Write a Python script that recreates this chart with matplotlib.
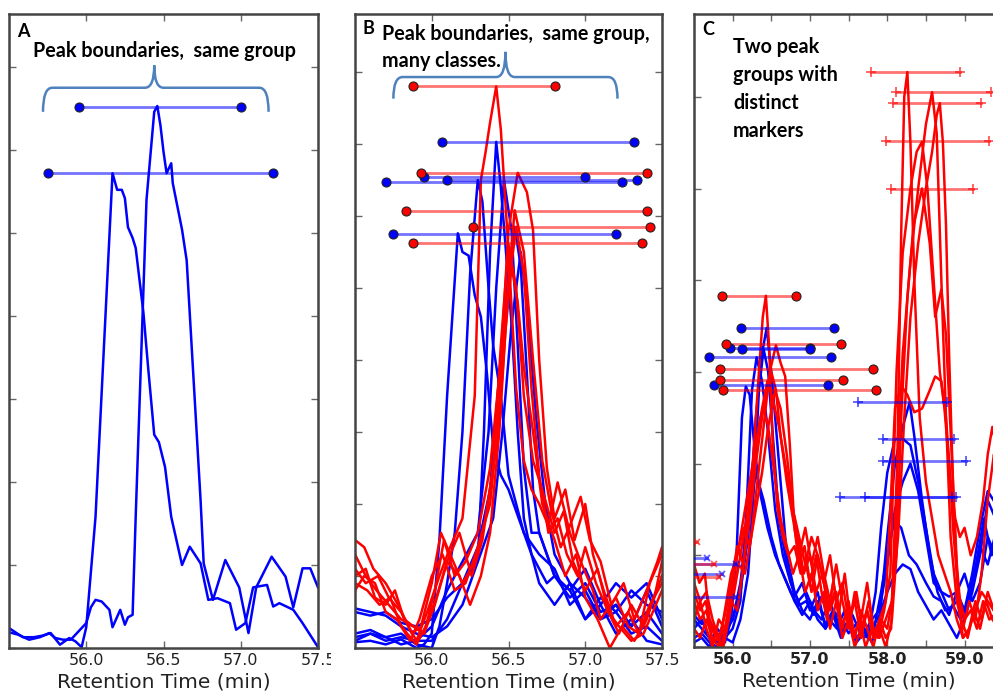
import numpy as np
import matplotlib.pyplot as plt
from matplotlib.path import Path
from matplotlib.patches import PathPatch, Rectangle

# ---------------- data ----------------
# Panel A: two blue chromatograms (retention time, intensity)
a_trace1 = [(55.5, 0.19), (55.56, 0.16), (55.63, 0.10), (55.7, 0.13), (55.76, 0.18), (55.8, 0.12),
            (55.85, 0.10), (55.9, 0.10), (55.96, 0.22), (56.0, 0.30), (56.03, 0.49), (56.06, 0.58),
            (56.1, 0.56), (56.15, 0.46), (56.17, 0.25), (56.22, 0.46), (56.25, 0.28), (56.27, 0.37),
            (56.3, 0.40), (56.32, 1.58), (56.39, 5.4), (56.44, 6.46), (56.46, 6.53), (56.48, 6.3),
            (56.5, 5.98), (56.52, 5.72), (56.55, 5.84), (56.56, 5.6), (56.62, 5.04), (56.65, 4.67),
            (56.74, 1.78), (56.76, 1.02), (56.82, 0.58), (56.9, 1.06), (56.99, 0.73), (57.05, 0.18),
            (57.1, 0.73), (57.2, 1.10), (57.29, 0.86), (57.34, 0.49), (57.4, 0.96), (57.45, 0.96),
            (57.5, 0.73)]
a_trace2 = [(55.5, 0.24), (55.59, 0.13), (55.66, 0.13), (55.72, 0.15), (55.77, 0.18), (55.83, 0.04),
            (55.89, 0.12), (55.93, 0.08), (55.97, 0.01), (56.0, 0.25), (56.06, 1.58), (56.17, 5.72),
            (56.2, 5.52), (56.23, 5.52), (56.25, 5.42), (56.27, 5.07), (56.3, 4.94), (56.32, 4.82),
            (56.37, 4.04), (56.4, 3.39), (56.44, 2.57), (56.47, 2.48), (56.51, 2.18), (56.55, 1.58),
            (56.62, 1.0), (56.67, 1.22), (56.74, 1.02), (56.79, 0.58), (56.85, 0.60), (56.93, 0.54),
            (56.97, 0.22), (57.03, 0.30), (57.08, 0.73), (57.17, 0.76), (57.21, 0.50), (57.25, 0.54),
            (57.34, 0.46), (57.4, 0.30), (57.5, 0.01)]
a_bound_y = [6.52, 5.72]
a_bound_start = [55.95, 55.75]
a_bound_end = [57.0, 57.21]

# Panel B: blue and red chromatograms
b_blue1 = [(55.5, 0.55), (55.6, 0.5), (55.7, 0.45), (55.8, 0.3), (55.9, 0.2), (56.0, 0.15), (56.1, 0.3),
           (56.2, 0.6), (56.3, 1.2), (56.34, 3.0), (56.38, 5.5), (56.42, 7.03), (56.45, 6.4), (56.48, 5.6),
           (56.52, 4.5), (56.56, 3.0), (56.6, 1.8), (56.65, 1.3), (56.7, 1.1), (56.75, 0.9), (56.8, 1.0),
           (56.9, 0.7), (57.0, 0.9), (57.1, 0.5), (57.2, 0.6), (57.3, 0.3), (57.4, 0.5), (57.5, 0.2)]
b_blue2 = [(55.5, 0.2), (55.6, 0.25), (55.7, 0.15), (55.8, 0.2), (55.9, 0.05), (56.0, 0.0), (56.05, 0.3),
           (56.1, 0.9), (56.15, 1.6), (56.2, 3.0), (56.25, 5.2), (56.3, 6.5), (56.33, 6.2), (56.37, 5.0),
           (56.4, 4.2), (56.45, 3.5), (56.5, 2.4), (56.55, 2.0), (56.6, 1.6), (56.7, 1.3), (56.8, 1.1),
           (56.9, 0.6), (57.0, 0.8), (57.1, 0.4), (57.2, 0.5), (57.3, 0.2), (57.4, 0.3), (57.5, 0.1)]
b_blue3 = [(55.5, 0.08), (55.6, 0.1), (55.7, 0.05), (55.8, 0.12), (55.9, 0.0), (55.95, 0.05), (56.0, 0.2),
           (56.05, 1.5), (56.1, 3.5), (56.17, 5.76), (56.2, 5.5), (56.24, 5.45), (56.28, 4.9), (56.32, 4.6),
           (56.36, 3.8), (56.4, 2.8), (56.45, 2.4), (56.5, 2.2), (56.55, 1.9), (56.6, 1.6), (56.65, 1.3),
           (56.7, 0.9), (56.8, 0.6), (56.9, 0.9), (57.0, 0.4), (57.1, 0.6), (57.2, 0.2), (57.3, 0.4),
           (57.4, 0.1), (57.5, 0.05)]
b_blue4 = [(55.5, 0.5), (55.6, 0.45), (55.7, 0.5), (55.8, 0.35), (55.9, 0.3), (56.0, 0.4), (56.1, 0.7),
           (56.2, 0.9), (56.3, 1.4), (56.38, 2.2), (56.44, 3.8), (56.5, 5.2), (56.54, 5.85), (56.58, 5.3),
           (56.62, 3.8), (56.66, 2.2), (56.7, 1.6), (56.75, 1.3), (56.8, 1.0), (56.9, 0.8), (57.0, 0.4),
           (57.1, 0.7), (57.2, 0.5), (57.3, 0.8), (57.4, 0.6), (57.5, 0.5)]
b_blue5 = [(55.5, 0.15), (55.6, 0.2), (55.7, 0.1), (55.8, 0.15), (55.9, 0.1), (56.0, 0.3), (56.1, 0.8),
           (56.2, 1.2), (56.3, 1.6), (56.37, 3.0), (56.42, 5.0), (56.47, 6.5), (56.52, 5.8), (56.56, 4.2),
           (56.6, 2.5), (56.65, 1.6), (56.7, 1.6), (56.8, 1.0), (56.9, 0.8), (57.0, 1.1), (57.1, 0.6),
           (57.2, 0.9), (57.3, 0.7), (57.4, 0.9), (57.5, 0.4)]
b_blue6 = [(55.5, 0.1), (55.6, 0.2), (55.7, 0.15), (55.8, 0.05), (55.9, 0.1), (56.0, 0.1), (56.1, 0.4),
           (56.2, 0.9), (56.3, 1.2), (56.4, 1.8), (56.46, 3.0), (56.52, 4.5), (56.58, 5.5), (56.62, 4.8),
           (56.68, 3.2), (56.74, 2.0), (56.8, 1.3), (56.9, 0.9), (57.0, 0.7), (57.1, 0.4), (57.2, 0.6),
           (57.3, 0.3), (57.4, 0.8), (57.5, 0.3)]
b_red1 = [(55.5, 1.5), (55.56, 1.4), (55.62, 1.1), (55.7, 0.9), (55.78, 0.6), (55.85, 0.3), (55.9, 0.1),
          (55.97, 0.5), (56.05, 1.0), (56.12, 1.4), (56.2, 1.8), (56.28, 3.5), (56.32, 6.5), (56.35, 6.88),
          (56.38, 7.3), (56.42, 7.8), (56.45, 7.2), (56.5, 5.5), (56.55, 3.6), (56.6, 2.6), (56.65, 2.2),
          (56.7, 2.0), (56.76, 1.7), (56.82, 2.3), (56.9, 1.6), (56.97, 1.2), (57.05, 0.8), (57.1, 0.4),
          (57.2, 0.7), (57.28, 0.3), (57.35, 0.2), (57.42, 0.6), (57.5, 0.9)]
b_red2 = [(55.5, 1.0), (55.57, 1.1), (55.63, 0.7), (55.7, 0.6), (55.76, 0.8), (55.82, 0.4), (55.88, 0.3),
          (55.95, 0.2), (56.02, 0.8), (56.08, 1.5), (56.15, 1.0), (56.22, 1.2), (56.3, 1.6), (56.38, 2.5),
          (56.45, 4.0), (56.5, 5.8), (56.56, 6.6), (56.62, 6.33), (56.66, 5.8), (56.7, 4.0), (56.75, 2.5),
          (56.8, 1.8), (56.87, 2.2), (56.93, 1.5), (57.0, 2.0), (57.05, 1.3), (57.12, 0.8), (57.2, 0.3),
          (57.28, 0.5), (57.35, 0.2), (57.42, 0.9), (57.5, 1.3)]
b_red3 = [(55.5, 1.1), (55.57, 0.9), (55.65, 1.0), (55.72, 0.7), (55.8, 0.5), (55.87, 0.2), (55.93, 0.3),
          (56.0, 0.9), (56.06, 1.6), (56.12, 1.3), (56.2, 0.9), (56.28, 1.2), (56.35, 1.8), (56.42, 2.8),
          (56.48, 4.6), (56.54, 6.08), (56.6, 5.5), (56.66, 4.0), (56.72, 2.6), (56.78, 1.9), (56.84, 1.4),
          (56.9, 1.7), (56.97, 2.1), (57.03, 1.5), (57.1, 1.2), (57.17, 0.6), (57.25, 0.9), (57.32, 0.4),
          (57.4, 0.8), (57.47, 1.2), (57.5, 1.4)]
b_red4 = [(55.5, 0.9), (55.58, 0.8), (55.66, 0.6), (55.73, 0.7), (55.8, 0.3), (55.86, 0.1), (55.92, 0.4),
          (56.0, 1.0), (56.07, 1.3), (56.15, 0.8), (56.22, 0.9), (56.3, 1.4), (56.38, 2.0), (56.45, 3.5),
          (56.5, 5.0), (56.55, 5.85), (56.6, 5.2), (56.65, 3.6), (56.7, 2.4), (56.76, 1.6), (56.82, 1.8),
          (56.88, 1.3), (56.95, 1.0), (57.0, 1.4), (57.07, 0.9), (57.15, 0.5), (57.22, 0.2), (57.3, 0.6),
          (57.38, 0.3), (57.45, 0.7), (57.5, 1.0)]
b_red5 = [(55.5, 0.8), (55.56, 1.0), (55.63, 0.9), (55.7, 0.5), (55.77, 0.4), (55.84, 0.2), (55.9, 0.05),
          (55.96, 0.3), (56.03, 0.7), (56.1, 1.2), (56.18, 1.6), (56.26, 1.0), (56.33, 1.5), (56.4, 2.5),
          (56.45, 4.2), (56.5, 5.6), (56.55, 5.0), (56.6, 3.5), (56.66, 2.6), (56.72, 2.2), (56.8, 1.6),
          (56.86, 1.9), (56.92, 1.2), (57.0, 0.8), (57.08, 1.1), (57.15, 0.5), (57.22, 0.3), (57.3, 0.1),
          (57.38, 0.2), (57.44, 0.5), (57.5, 0.8)]
b_red6 = [(55.5, 1.3), (55.57, 1.0), (55.64, 0.8), (55.72, 0.6), (55.8, 0.4), (55.88, 0.3), (55.95, 0.2),
          (56.02, 0.6), (56.1, 1.2), (56.18, 1.0), (56.25, 0.6), (56.32, 1.0), (56.38, 1.6), (56.44, 3.0),
          (56.48, 4.4), (56.52, 5.3), (56.56, 4.8), (56.6, 3.9), (56.66, 3.0), (56.72, 2.0), (56.8, 1.5),
          (56.87, 1.0), (56.94, 1.3), (57.0, 0.7), (57.08, 0.4), (57.16, 0.0), (57.24, 0.3), (57.32, 0.1),
          (57.4, 0.4), (57.46, 0.8), (57.5, 1.2)]
b_blue_bound_y = [7.03, 6.54, 6.50, 6.47, 5.75]
b_blue_bound_start = [56.07, 55.95, 56.10, 55.70, 55.75]
b_blue_bound_end = [57.32, 57.0, 57.34, 57.24, 57.2]
b_red_bound_y = [7.8, 6.6, 6.07, 5.85, 5.62]
b_red_bound_start = [55.88, 55.93, 55.83, 56.27, 55.88]
b_red_bound_end = [56.80, 57.40, 57.40, 57.42, 57.37]

# Panel C: two peak groups
c_blue1 = [(55.5, 0.3), (55.6, 0.2), (55.7, 0.1), (55.8, 0.05), (55.9, 0.15), (56.0, 0.3), (56.1, 0.6),
           (56.2, 1.2), (56.3, 2.5), (56.38, 3.2), (56.44, 3.48), (56.5, 3.0), (56.6, 2.0), (56.7, 1.0),
           (56.8, 0.6), (56.9, 0.4), (57.0, 0.3), (57.1, 0.5), (57.2, 0.25), (57.3, 0.4), (57.4, 0.15),
           (57.5, 0.3), (57.6, 0.1), (57.7, 0.2), (57.8, 0.05), (57.9, 0.3), (58.0, 1.2), (58.1, 2.0),
           (58.2, 2.4), (58.29, 2.67), (58.35, 2.3), (58.45, 1.6), (58.55, 1.0), (58.65, 0.6), (58.75, 0.4),
           (58.85, 0.45), (58.95, 0.3), (59.05, 0.5), (59.15, 0.9), (59.25, 1.4), (59.35, 1.0), (59.45, 1.2)]
c_blue2 = [(55.5, 0.1), (55.6, 0.15), (55.7, 0.05), (55.8, 0.0), (55.9, 0.1), (56.0, 0.2), (56.1, 0.5),
           (56.18, 1.5), (56.25, 2.8), (56.31, 3.16), (56.38, 2.9), (56.45, 2.4), (56.55, 1.5), (56.65, 1.0),
           (56.75, 0.7), (56.85, 0.5), (56.95, 0.6), (57.05, 0.4), (57.15, 0.3), (57.25, 0.5), (57.35, 0.3),
           (57.45, 0.2), (57.55, 0.35), (57.65, 0.15), (57.75, 0.1), (57.85, 0.6), (57.92, 1.3), (58.0, 1.9),
           (58.1, 2.27), (58.2, 2.27), (58.3, 2.2), (58.4, 1.8), (58.5, 1.3), (58.6, 0.8), (58.7, 0.6),
           (58.8, 0.55), (58.9, 0.6), (59.0, 0.4), (59.1, 0.8), (59.2, 1.3), (59.3, 1.7), (59.45, 1.5)]
c_blue3 = [(55.5, 0.2), (55.6, 0.3), (55.7, 0.1), (55.8, 0.15), (55.9, 0.05), (55.98, 0.3), (56.05, 1.0),
           (56.12, 2.5), (56.17, 2.84), (56.22, 2.75), (56.28, 2.2), (56.35, 1.7), (56.45, 1.3), (56.55, 1.0),
           (56.65, 0.8), (56.75, 0.6), (56.85, 0.45), (56.95, 0.5), (57.05, 0.35), (57.15, 0.55), (57.25, 0.3),
           (57.35, 0.2), (57.45, 0.4), (57.55, 0.2), (57.65, 0.3), (57.75, 0.1), (57.83, 0.2), (57.92, 0.6),
           (58.0, 1.0), (58.09, 1.38), (58.18, 1.3), (58.28, 1.0), (58.38, 0.9), (58.5, 0.7), (58.6, 0.55),
           (58.7, 0.5), (58.8, 0.35), (58.9, 0.6), (59.0, 0.8), (59.1, 0.5), (59.2, 0.7), (59.3, 1.2),
           (59.45, 0.9)]
c_blue4 = [(55.5, 0.05), (55.6, 0.1), (55.7, 0.0), (55.8, 0.2), (55.9, 0.1), (56.0, 0.05), (56.1, 0.3),
           (56.2, 0.8), (56.28, 1.8), (56.34, 2.8), (56.4, 3.25), (56.46, 3.0), (56.52, 2.3), (56.6, 1.4),
           (56.7, 0.9), (56.8, 0.55), (56.9, 0.7), (57.0, 0.4), (57.1, 0.6), (57.2, 0.2), (57.3, 0.35),
           (57.4, 0.1), (57.5, 0.25), (57.6, 0.05), (57.7, 0.15), (57.8, 0.3), (57.9, 0.4), (58.0, 0.9),
           (58.1, 1.5), (58.2, 1.8), (58.3, 2.0), (58.4, 1.7), (58.5, 1.2), (58.6, 0.7), (58.7, 0.6),
           (58.8, 0.4), (58.9, 0.5), (59.0, 0.3), (59.1, 0.6), (59.2, 1.0), (59.3, 1.6), (59.45, 1.3)]
c_blue5 = [(55.5, 0.35), (55.6, 0.25), (55.7, 0.3), (55.8, 0.1), (55.9, 0.2), (56.0, 0.3), (56.1, 0.7),
           (56.2, 1.4), (56.3, 1.9), (56.4, 1.6), (56.5, 1.2), (56.6, 0.9), (56.7, 0.7), (56.8, 0.5),
           (56.9, 0.35), (57.0, 0.5), (57.1, 0.3), (57.2, 0.2), (57.3, 0.4), (57.4, 0.3), (57.5, 0.15),
           (57.6, 0.25), (57.7, 0.1), (57.8, 0.2), (57.9, 0.35), (58.0, 0.6), (58.1, 0.8), (58.2, 0.9),
           (58.3, 0.85), (58.4, 0.6), (58.5, 0.45), (58.6, 0.3), (58.7, 0.4), (58.8, 0.25), (58.9, 0.1),
           (59.0, 0.3), (59.1, 0.7), (59.2, 1.1), (59.3, 0.9), (59.45, 1.4)]
c_red1 = [(55.5, 0.6), (55.58, 0.4), (55.65, 0.5), (55.72, 0.2), (55.8, 0.1), (55.88, 0.0), (55.95, 0.3),
          (56.02, 0.6), (56.1, 1.0), (56.18, 1.4), (56.26, 2.0), (56.34, 3.0), (56.39, 3.6), (56.43, 3.83),
          (56.47, 3.3), (56.52, 2.2), (56.58, 1.5), (56.65, 1.2), (56.72, 1.0), (56.8, 1.1), (56.88, 0.8),
          (56.95, 0.9), (57.02, 0.6), (57.1, 1.0), (57.18, 0.7), (57.26, 0.4), (57.34, 0.6), (57.42, 0.2),
          (57.5, 0.5), (57.58, 0.1), (57.66, 0.4), (57.74, 0.2), (57.82, 0.0), (57.9, 0.3), (57.98, 0.1),
          (58.05, 0.2), (58.12, 1.5), (58.18, 4.5), (58.22, 6.0), (58.26, 6.27), (58.3, 5.5), (58.35, 4.0),
          (58.42, 2.5), (58.5, 1.8), (58.58, 1.4), (58.66, 1.0), (58.74, 0.8), (58.82, 0.6), (58.9, 0.3),
          (58.98, 0.1), (59.06, 0.2), (59.14, 0.4), (59.22, 0.6), (59.3, 0.5), (59.45, 0.3)]
c_red2 = [(55.5, 0.9), (55.57, 0.7), (55.64, 0.8), (55.7, 0.3), (55.78, 0.15), (55.85, 0.0), (55.92, 0.25),
          (56.0, 0.6), (56.08, 0.9), (56.16, 0.8), (56.24, 1.2), (56.32, 1.8), (56.4, 2.4), (56.48, 3.0),
          (56.56, 3.29), (56.62, 3.1), (56.68, 2.95), (56.74, 2.2), (56.8, 1.3), (56.86, 0.9), (56.93, 1.1),
          (57.0, 0.7), (57.08, 1.0), (57.15, 0.6), (57.22, 0.3), (57.3, 0.7), (57.38, 0.4), (57.45, 0.8),
          (57.52, 0.3), (57.6, 0.6), (57.68, 0.2), (57.76, 0.5), (57.84, 0.1), (57.92, 0.3), (58.0, 0.2),
          (58.06, 0.5), (58.12, 1.8), (58.2, 3.2), (58.3, 4.2), (58.4, 5.0), (58.5, 5.7), (58.58, 6.05),
          (58.64, 5.6), (58.7, 4.0), (58.76, 2.5), (58.82, 1.2), (58.9, 0.5), (58.98, 0.2), (59.06, 0.5),
          (59.14, 0.3), (59.22, 0.8), (59.3, 1.6), (59.38, 2.1), (59.45, 1.8)]
c_red3 = [(55.5, 0.5), (55.58, 0.3), (55.66, 0.4), (55.74, 0.05), (55.82, 0.1), (55.9, 0.35), (55.98, 0.7),
          (56.06, 1.1), (56.14, 0.9), (56.22, 1.4), (56.3, 2.0), (56.38, 2.5), (56.44, 2.8), (56.5, 3.0),
          (56.56, 2.8), (56.62, 2.3), (56.7, 1.8), (56.78, 1.4), (56.86, 1.0), (56.94, 1.3), (57.02, 0.9),
          (57.1, 1.2), (57.18, 0.8), (57.26, 0.5), (57.34, 0.9), (57.42, 0.5), (57.5, 0.2), (57.58, 0.6),
          (57.66, 0.3), (57.74, 0.7), (57.82, 0.2), (57.9, 0.1), (57.98, 0.3), (58.06, 0.5), (58.14, 1.2),
          (58.22, 2.5), (58.3, 3.6), (58.4, 4.4), (58.5, 5.0), (58.58, 5.4), (58.64, 5.8), (58.68, 5.93),
          (58.72, 5.5), (58.76, 4.6), (58.8, 3.2), (58.86, 1.5), (58.92, 0.5), (58.98, 0.1), (59.06, 0.2),
          (59.14, 0.5), (59.22, 0.3), (59.3, 0.6), (59.38, 0.4), (59.45, 0.7)]
c_red4 = [(55.5, 0.3), (55.58, 0.5), (55.66, 0.2), (55.74, 0.0), (55.82, 0.3), (55.9, 0.2), (55.98, 0.5),
          (56.06, 0.4), (56.14, 0.9), (56.22, 1.6), (56.3, 2.2), (56.38, 2.6), (56.45, 2.9), (56.52, 2.7),
          (56.6, 2.4), (56.68, 2.0), (56.76, 1.6), (56.84, 1.2), (56.92, 0.8), (57.0, 1.0), (57.08, 0.6),
          (57.16, 0.8), (57.24, 0.4), (57.32, 0.6), (57.4, 0.2), (57.48, 0.4), (57.56, 0.1), (57.64, 0.3),
          (57.72, 0.0), (57.8, 0.2), (57.88, 0.1), (57.96, 0.4), (58.04, 0.8), (58.12, 3.0), (58.2, 4.3),
          (58.3, 5.0), (58.38, 5.4), (58.45, 5.51), (58.52, 5.0), (58.6, 4.0), (58.68, 3.0), (58.74, 2.6),
          (58.8, 2.0), (58.86, 1.2), (58.92, 0.6), (59.0, 0.3), (59.08, 0.4), (59.16, 0.2), (59.24, 0.5),
          (59.32, 0.3), (59.45, 0.4)]
c_red5 = [(55.5, 0.2), (55.58, 0.1), (55.66, 0.3), (55.74, 0.1), (55.82, 0.0), (55.9, 0.4), (55.98, 0.8),
          (56.06, 1.0), (56.14, 1.3), (56.22, 1.1), (56.3, 1.5), (56.38, 1.9), (56.46, 2.4), (56.55, 2.8),
          (56.62, 2.6), (56.7, 2.1), (56.78, 1.5), (56.86, 1.2), (56.94, 0.9), (57.02, 1.2), (57.1, 1.0),
          (57.18, 0.7), (57.26, 1.0), (57.34, 0.5), (57.42, 0.7), (57.5, 0.3), (57.58, 0.5), (57.66, 0.1),
          (57.74, 0.4), (57.82, 0.1), (57.9, 0.2), (57.98, 0.0), (58.06, 0.3), (58.12, 1.0), (58.18, 2.5),
          (58.26, 3.8), (58.34, 4.6), (58.45, 5.0), (58.55, 4.4), (58.62, 3.6), (58.7, 3.9), (58.76, 3.4),
          (58.84, 2.0), (58.9, 0.9), (58.96, 0.3), (59.04, 0.1), (59.12, 0.4), (59.2, 0.2), (59.28, 0.5),
          (59.36, 0.3), (59.45, 0.2)]
c_red6 = [(55.5, 0.7), (55.58, 0.5), (55.66, 0.6), (55.74, 0.3), (55.82, 0.1), (55.9, 0.2), (55.98, 0.6),
          (56.06, 1.0), (56.14, 1.4), (56.22, 1.8), (56.3, 2.2), (56.36, 2.5), (56.4, 2.6), (56.46, 2.4),
          (56.54, 1.9), (56.62, 1.4), (56.7, 1.1), (56.78, 0.8), (56.86, 1.0), (56.94, 0.6), (57.02, 0.8),
          (57.1, 0.4), (57.18, 0.6), (57.26, 0.2), (57.34, 0.5), (57.42, 0.1), (57.5, 0.3), (57.58, 0.0),
          (57.66, 0.2), (57.74, 0.4), (57.82, 0.1), (57.9, 0.3), (57.98, 0.5), (58.04, 1.5), (58.1, 2.6),
          (58.18, 2.85), (58.26, 2.75), (58.35, 2.56), (58.45, 2.6), (58.55, 2.8), (58.62, 2.95), (58.7, 2.9),
          (58.76, 2.5), (58.82, 1.8), (58.88, 1.4), (58.94, 1.2), (59.0, 1.3), (59.08, 1.0), (59.16, 1.2),
          (59.24, 1.6), (59.3, 2.1), (59.36, 2.4), (59.45, 2.0)]

# first group (circle markers)
c1_red_y = [3.83, 3.30, 3.03, 2.91, 2.80]
c1_red_start = [55.86, 55.91, 55.84, 55.84, 55.88]
c1_red_end = [56.82, 57.40, 57.82, 57.43, 57.85]
c1_blue_y = [3.48, 3.26, 3.25, 3.16, 2.86]
c1_blue_start = [56.11, 55.97, 56.12, 55.69, 55.76]
c1_blue_end = [57.31, 57.0, 57.0, 57.27, 57.23]
# second group (plus markers)
c2_red_y = [6.27, 6.05, 5.93, 5.52, 5.0]
c2_red_start = [57.79, 58.11, 58.07, 57.98, 58.05]
c2_red_end = [58.94, 59.34, 59.21, 59.32, 59.11]
c2_blue_y = [2.67, 2.27, 2.03, 1.64, 1.64]
c2_blue_start = [57.62, 57.95, 57.95, 57.39, 57.71]
c2_blue_end = [58.77, 58.86, 59.02, 58.89, 58.84]
# earlier group (x markers), mostly off the left edge
c0_red_y = [1.15, 0.90, 0.76]
c0_red_start = [55.0, 55.0, 55.0]
c0_red_end = [55.54, 55.76, 55.82]
c0_blue_y = [0.97, 0.91, 0.80, 0.55]
c0_blue_start = [55.0, 55.0, 55.0, 55.0]
c0_blue_end = [55.67, 56.04, 55.86, 56.04]

BLUE = '#0000ff'
RED = '#ff0000'

# ---------------- figure ----------------
W, H = 993, 696
fig = plt.figure(figsize=(W / 100, H / 100), dpi=100)


def axes_px(left, top, right, bottom):
    return fig.add_axes([left / W, 1 - bottom / H, (right - left) / W, (bottom - top) / H])


def style(ax, xlim, ymax, ticks, labels, bold=False):
    ax.set_xlim(*xlim)
    ax.set_ylim(0, ymax)
    ax.set_xticks(ticks)
    ax.set_xticklabels(labels, fontsize=11.5, color='#222222',
                       fontweight='bold' if bold else 'normal')
    ax.set_yticks(np.arange(0, ymax, 1.0))
    ax.set_yticklabels([])
    ax.tick_params(direction='in', top=True, right=True, length=5, width=1, color='#666666')
    for s in ax.spines.values():
        s.set_linewidth(1.8)
        s.set_color('#444444')
    ax.set_xlabel('Retention Time (min)', fontsize=14.5, color='#222222', labelpad=3)


def traces(ax, tr_list, color):
    for tr in tr_list:
        t, y = zip(*tr)
        ax.plot(t, y, color=color, lw=1.8, zorder=2)


def bounds(ax, ys, starts, ends, color, marker, ms=6.5, mew=0.8):
    for y, l, r in zip(ys, starts, ends):
        ax.plot([l, r], [y, y], color=color, lw=2, alpha=0.55, zorder=3)
        if marker == 'o':
            ax.plot([l, r], [y, y], ls='none', marker='o', ms=ms, color=color,
                    mec='#222222', mew=mew, zorder=4)
        else:
            ax.plot([l, r], [y, y], ls='none', marker=marker, ms=ms, color=color,
                    mew=1.4, alpha=0.6, zorder=4)


def brace(ax, x0, x1, xt, y_end, y_mid, y_tip, dx=0.06):
    verts = [(x0, y_end), (x0, y_mid), (x0 + dx, y_mid), (xt - dx, y_mid),
             (xt, y_mid), (xt, y_tip), (xt, y_mid), (xt + dx, y_mid),
             (x1 - dx, y_mid), (x1, y_mid), (x1, y_end)]
    codes = [Path.MOVETO, Path.CURVE3, Path.CURVE3, Path.LINETO,
             Path.CURVE3, Path.CURVE3, Path.CURVE3, Path.CURVE3,
             Path.LINETO, Path.CURVE3, Path.CURVE3]
    ax.add_patch(PathPatch(Path(verts, codes), fc='none', ec='#4f81bd', lw=1.8, zorder=5))


note_font = dict(family='Lato', fontweight='bold', fontsize=14.2, color='black')
letter_font = dict(family='Lato', fontweight='bold', fontsize=13, color='black')

# Panel A
axA = axes_px(9, 14, 318, 648)
traces(axA, [a_trace1, a_trace2], BLUE)
bounds(axA, a_bound_y, a_bound_start, a_bound_end, BLUE, 'o')
brace(axA, 55.72, 57.18, 56.44, 6.46, 6.75, 7.02)
style(axA, (55.5, 57.5), 634 / 83, [56.0, 56.5, 57.0, 57.5], ['56.0', '56.5', '57.0', '57.5'])
axA.text(0.026, 0.964, 'A', transform=axA.transAxes, va='baseline', **letter_font)
axA.text(0.078, 0.932, 'Peak boundaries,  same group', transform=axA.transAxes,
         va='baseline', **note_font)

# Panel B
axB = axes_px(355, 14, 662, 648)
traces(axB, [b_blue1, b_blue2, b_blue3, b_blue4, b_blue5, b_blue6], BLUE)
traces(axB, [b_red1, b_red2, b_red3, b_red4, b_red5, b_red6], RED)
bounds(axB, b_blue_bound_y, b_blue_bound_start, b_blue_bound_end, BLUE, 'o')
bounds(axB, b_red_bound_y, b_red_bound_start, b_red_bound_end, RED, 'o')
brace(axB, 55.75, 57.21, 56.48, 7.63, 7.93, 8.28)
style(axB, (55.5, 57.5), 634 / 72, [56.0, 56.5, 57.0, 57.5], ['56.0', '56.5', '57.0', '57.5'])
axB.text(0.023, 0.968, 'B', transform=axB.transAxes, va='baseline', **letter_font)
# baseline given for the last line of the block
axB.text(0.088, 0.916, 'Peak boundaries,  same group,\nmany classes.', transform=axB.transAxes,
         va='baseline', linespacing=1.45, **note_font)

# Panel C (cut off on the right, like the original)
axC = axes_px(694, 14, 694 + 4 * 77.3, 647)
traces(axC, [c_blue1, c_blue2, c_blue3, c_blue4, c_blue5], BLUE)
traces(axC, [c_red1, c_red2, c_red3, c_red4, c_red5, c_red6], RED)
bounds(axC, c1_blue_y, c1_blue_start, c1_blue_end, BLUE, 'o')
bounds(axC, c1_red_y, c1_red_start, c1_red_end, RED, 'o')
bounds(axC, c2_blue_y, c2_blue_start, c2_blue_end, BLUE, '+', ms=7)
bounds(axC, c2_red_y, c2_red_start, c2_red_end, RED, '+', ms=7)
bounds(axC, c0_blue_y, c0_blue_start, c0_blue_end, BLUE, 'x', ms=5)
bounds(axC, c0_red_y, c0_red_start, c0_red_end, RED, 'x', ms=5)
c_ticks = [56.0, 56.5, 57.0, 57.5, 58.0, 58.5, 59.0, 59.5]
c_labels = ['56.0', '', '57.0', '', '58.0', '', '59.0', '']
style(axC, (55.5, 59.5), 633 / 91.7, c_ticks, c_labels, bold=True)
axC.text(0.026, 0.967, 'C', transform=axC.transAxes, va='baseline', **letter_font)
axC.text(0.126, 0.806, 'Two peak\ngroups with\ndistinct\nmarkers', transform=axC.transAxes,
         va='baseline', linespacing=1.5, **note_font)

# the original panels were cropped side by side; A's last tick label is cut
fig.add_artist(Rectangle((331 / W, 0), 23 / W, 46 / H, transform=fig.transFigure,
                         facecolor='white', edgecolor='none', zorder=10))

fig.savefig('out.png', dpi=100)
